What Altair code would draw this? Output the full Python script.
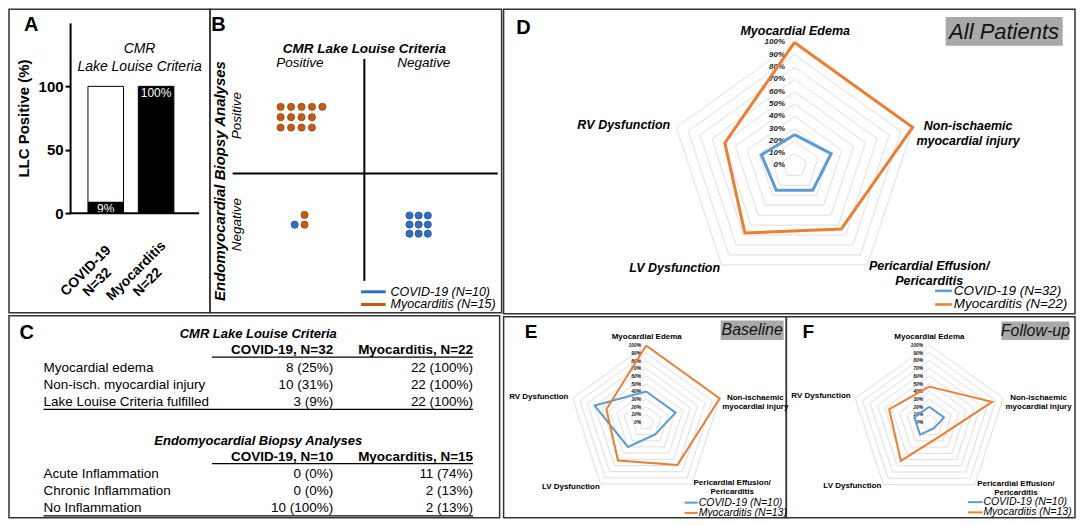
import altair as alt
import pandas as pd

FONT = "Liberation Sans"
BLUE_DOT = "#2f6fbe"
ORANGE_DOT = "#c55a11"
BLUE_DOT_EDGE = "#1f4f8f"
ORANGE_DOT_EDGE = "#8f3e0a"
BLUE_LINE = "#5b9bd5"
ORANGE_LINE = "#ed7d31"
GRID = "#dedede"
BOX = "#a9a9a9"
BORDER = "#333333"

# ---------------- data ----------------
llc_groups = ["COVID-19|N=32", "Myocarditis|N=22"]
llc_positive = [9, 100]
llc_total = [100, 100]

emb_quadrants = ["LLC+ / EMB+", "LLC+ / EMB-", "LLC- / EMB-"]
emb_myo = [13, 2, 0]
emb_covid = [0, 1, 9]

t1_title = "CMR Lake Louise Criteria"
t1_head = ["COVID-19, N=32", "Myocarditis, N=22"]
t1_rows = ["Myocardial edema", "Non-isch. myocardial injury", "Lake Louise Criteria fulfilled"]
t1_covid = ["8 (25%)", "10 (31%)", "3 (9%)"]
t1_myo = ["22 (100%)", "22 (100%)", "22 (100%)"]
t2_title = "Endomyocardial Biopsy Analyses"
t2_head = ["COVID-19, N=10", "Myocarditis, N=15"]
t2_rows = ["Acute Inflammation", "Chronic Inflammation", "No Inflammation"]
t2_covid = ["0 (0%)", "0 (0%)", "10 (100%)"]
t2_myo = ["11 (74%)", "2 (13%)", "2 (13%)"]

radar_axes = ["Myocardial Edema", "Non-ischaemic|myocardial injury",
              "Pericardial Effusion/|Pericarditis", "LV Dysfunction", "RV Dysfunction"]
radar_levels = [0, 10, 20, 30, 40, 50, 60, 70, 80, 90, 100]
all_covid = [25, 31, 25, 25, 28]
all_myo = [100, 100, 64, 68, 59]
base_covid = [40, 40, 20, 40, 70]
base_myo = [100, 100, 69, 62, 54]
fu_covid = [20, 20, 10, 20, 20]
fu_myo = [46, 85, 23, 62, 54]

# ---------------- layout: one figure coordinate system ----------------
W, H = 1068, 510
RX0, RX1, RY0, RY1 = 1, 1083, 1, 522


def GX(rx):
    return (rx - RX0) * (W - 1) / (RX1 - RX0)


def GY(ry):
    return (ry - RY0) * (H - 1) / (RY1 - RY0)


XS = alt.Scale(domain=[RX0, RX1], range=[0, W - 1], nice=False, zero=False)
YS = alt.Scale(domain=[RY0, RY1], range=[0, H - 1], nice=False, zero=False)


def xy(xf="x", yf="y"):
    return dict(x=alt.X(f"{xf}:Q", scale=XS, axis=None),
                y=alt.Y(f"{yf}:Q", scale=YS, axis=None))


def text_layer(rows, size, weight="normal", style="normal", align="center",
               baseline="middle", color="black", angle=None, line_height=None):
    df = pd.DataFrame(rows, columns=["x", "y", "t"])
    props = dict(font=FONT, fontSize=size, fontWeight=weight, fontStyle=style,
                 align=align, baseline=baseline, color=color, lineBreak="|")
    if angle is not None:
        props["angle"] = angle
    if line_height is not None:
        props["lineHeight"] = line_height
    return alt.Chart(df).mark_text(**props).encode(**xy(), text="t:N")


def rule_layer(rows, color="black", width=1.5):
    df = pd.DataFrame(rows, columns=["x", "y", "x2", "y2"])
    return alt.Chart(df).mark_rule(color=color, strokeWidth=width).encode(
        **xy(), x2="x2:Q", y2="y2:Q")


def rect_layer(rows, fill=None, stroke=None, width=1.5):
    df = pd.DataFrame(rows, columns=["x", "y", "x2", "y2"])
    props = dict(strokeWidth=width)
    if fill:
        props["fill"] = fill
    else:
        props["fillOpacity"] = 0
    if stroke:
        props["stroke"] = stroke
    return alt.Chart(df).mark_rect(**props).encode(**xy(), x2="x2:Q", y2="y2:Q")


def radar_layers(geo, covid, myo):
    cx, cy, R = geo["cx"], geo["cy"], geo["R"]
    fx = f"{cx} + datum.v / 100 * {R} * sin(datum.ang * PI / 180)"
    fy = f"{cy} - datum.v / 100 * {R} * cos(datum.ang * PI / 180)"
    enc = xy("px", "py")
    grid_df = pd.DataFrame([{"v": L, "ord": i, "ang": (i % 5) * 72}
                            for L in radar_levels if L > 0 for i in range(6)])
    grid = alt.Chart(grid_df).transform_calculate(px=fx, py=fy).mark_line(
        color=GRID, strokeWidth=1).encode(**enc, detail="v:N", order="ord:Q")

    def series(vals, color):
        df = pd.DataFrame([{"v": vals[i % 5], "ord": i, "ang": (i % 5) * 72} for i in range(6)])
        return alt.Chart(df).transform_calculate(px=fx, py=fy).mark_line(
            color=color, strokeWidth=geo["lw"], strokeJoin="miter").encode(**enc, order="ord:Q")

    pct_df = pd.DataFrame({"v": radar_levels, "ang": [0] * len(radar_levels),
                           "t": [f"{L}%" for L in radar_levels]})
    pct = alt.Chart(pct_df).transform_calculate(px=fx, py=fy).mark_text(
        font=FONT, fontSize=geo["pct_size"], fontWeight="bold", fontStyle="italic",
        align="right", baseline="middle", color="#222222", dx=geo["pct_dx"]).encode(**enc, text="t:N")

    cat_rows = [(geo["lab"][i][0], geo["lab"][i][1], radar_axes[i]) for i in range(5)]
    cats = text_layer(cat_rows, geo["cat_size"], weight="bold", style=geo["cat_style"],
                      line_height=geo["cat_lh"])
    return [grid, pct, series(covid, BLUE_LINE), series(myo, ORANGE_LINE), cats]


layers = []

# panel borders
layers.append(rect_layer([(1, 1, 205, 312), (205, 1, 501, 312), (1, 315, 499, 522),
                          (503, 1, 1083, 313), (503, 316, 790, 522), (790, 316, 1083, 522)],
                         stroke=BORDER, width=1.5))

# ---------------- panel A ----------------
dfA = pd.DataFrame({"group": llc_groups, "positive": llc_positive, "total": llc_total,
                    "label": [f"{v}%" for v in llc_positive]})
xA = alt.X("group:N", sort=None, axis=None,
           scale=alt.Scale(range=[GX(63), GX(186.5)], paddingInner=0.294, paddingOuter=0.355))
yscaleA = alt.Scale(domain=[0, 150], range=[GY(210), GY(15)], nice=False)
yaxisA = alt.Axis(orient="left", offset=-GX(63), values=[0, 50, 100], title="LLC Positive (%)",
                  titleFont=FONT, titleFontSize=15, titleFontWeight="bold", titleColor="black",
                  titlePadding=7, labelFont=FONT, labelFontSize=15, labelFontWeight="bold",
                  labelColor="black", labelPadding=2, tickColor="black", tickWidth=2, tickSize=5,
                  domainColor="black", domainWidth=2, grid=False)
barsA = alt.Chart(dfA).encode(x=xA)
whiteA = barsA.mark_bar(fill="white", stroke="black", strokeWidth=1).encode(
    y=alt.Y("total:Q", scale=yscaleA, axis=yaxisA))
blackA = barsA.mark_bar(fill="black").encode(y=alt.Y("positive:Q"))
valA = barsA.mark_text(font=FONT, fontSize=12, color="white", baseline="top", dy=2).encode(
    y=alt.Y("positive:Q"), text="label:N")
xlabA = barsA.mark_text(font=FONT, fontSize=14, fontWeight="bold", angle=315, align="center",
                        baseline="middle", lineBreak="|", dx=-28, color="black").encode(
    y=alt.value(GY(249)), text="group:N")
layers.append(alt.layer(whiteA, blackA, valA, xlabA))
layers += [
    rule_layer([(63, 210, 194, 210)], width=2),
    text_layer([(23.5, 17, "A")], 20, weight="bold"),
    text_layer([(133.5, 42, "CMR"), (133.5, 60, "Lake Louise Criteria")], 14, style="italic"),
]

# ---------------- panel B ----------------
quad_layout = {  # first dot position, step, rows per column, column direction, row direction
    "LLC+ / EMB+": (276.7, 101.0, 10.6, 3, 1, 1),
    "LLC+ / EMB-": (301.0, 221.7, 10.0, 2, -1, -1),
    "LLC- / EMB-": (407.5, 212.3, 9.3, 3, 1, 1),
}
dot_rows = []
for qi, q in enumerate(emb_quadrants):
    x0, y0, step, nrow, cdir, rdir = quad_layout[q]
    members = ["Myocarditis"] * emb_myo[qi] + ["COVID-19"] * emb_covid[qi]
    for k, g in enumerate(members):
        col, row = k // nrow, k % nrow
        dot_rows.append({"x": x0 + cdir * col * step, "y": y0 + rdir * row * step, "group": g})
dfB = pd.DataFrame(dot_rows)
dotsB = alt.Chart(dfB).mark_circle(size=52, opacity=1, strokeWidth=0.7).encode(
    **xy(),
    fill=alt.Fill("group:N", scale=alt.Scale(domain=["COVID-19", "Myocarditis"],
                                             range=[BLUE_DOT, ORANGE_DOT]), legend=None),
    stroke=alt.Stroke("group:N", scale=alt.Scale(domain=["COVID-19", "Myocarditis"],
                                                 range=[BLUE_DOT_EDGE, ORANGE_DOT_EDGE]), legend=None))
layers += [
    rule_layer([(361.7, 52, 361.7, 279.3), (228, 169.3, 497, 169.3)], width=2),
    dotsB,
    text_layer([(213.5, 17, "B")], 20, weight="bold"),
    text_layer([(361.7, 41.7, "CMR Lake Louise Criteria")], 13.5, weight="bold", style="italic"),
    text_layer([(296.3, 56, "Positive"), (422, 56, "Negative")], 13.5, style="italic"),
    text_layer([(232.3, 110, "Positive"), (232.3, 221.7, "Negative")], 13.5, style="italic", angle=270),
    text_layer([(215, 177, "Endomyocardial Biopsy Analyses")], 15, weight="bold", style="italic", angle=270),
    rule_layer([(358.3, 290.5, 383.3, 290.5)], color=BLUE_DOT, width=3),
    rule_layer([(358.3, 303.5, 383.3, 303.5)], color=ORANGE_DOT, width=3),
    text_layer([(388.3, 290.5, "COVID-19 (N=10)"), (388.3, 303.5, "Myocarditis (N=15)")], 12.5,
               style="italic", align="left"),
]

# ---------------- panel C ----------------
layers.append(text_layer([(19, 333, "C")], 20, weight="bold"))
for top, title, head, rows, cv, mv in ((334, t1_title, t1_head, t1_rows, t1_covid, t1_myo),
                                        (443, t2_title, t2_head, t2_rows, t2_covid, t2_myo)):
    layers.append(text_layer([(254, top, title)], 13, weight="bold", style="italic"))
    layers.append(text_layer([(330, top + 16.5, head[0]), (472, top + 16.5, head[1])], 13.5,
                             weight="bold", align="right"))
    layers.append(rule_layer([(207, top + 23.5, 472, top + 23.5),
                              (36, top + 77, 472, top + 77)], width=1.3))
    ys = [top + 34.5 + 17.5 * i for i in range(len(rows))]
    layers.append(text_layer(list(zip([36] * 3, ys, rows)), 13.5, align="left"))
    layers.append(text_layer(list(zip([330] * 3, ys, cv)) + list(zip([472] * 3, ys, mv)),
                             13.5, align="right"))

# ---------------- panel D ----------------
geoD = dict(cx=798.3, cy=161, R=126, lw=3, pct_size=8, pct_dx=-9.5, cat_size=12.5, cat_style="italic",
            cat_lh=15, lab=[(799, 23), (974.5, 120.5), (935, 264.5), (676.7, 266), (625, 120)])
layers += radar_layers(geoD, all_covid, all_myo)
layers += [
    text_layer([(523.3, 20, "D")], 20, weight="bold"),
    rect_layer([(951.7, 9, 1070.5, 38.3)], fill=BOX, width=0),
    text_layer([(1011, 24.5, "All Patients")], 22, style="italic", color="#111111"),
    rule_layer([(941, 289.5, 958, 289.5)], color=BLUE_LINE, width=2.5),
    rule_layer([(941, 303.5, 958, 303.5)], color=ORANGE_LINE, width=2.5),
    text_layer([(960, 289.5, "COVID-19 (N=32)"), (960, 303.5, "Myocarditis (N=22)")], 13.5,
               style="italic", align="left"),
]

# ---------------- panel E ----------------
geoE = dict(cx=647.7, cy=424, R=78.5, lw=2, pct_size=5, pct_dx=-5, cat_size=8, cat_style="normal",
            cat_lh=9, lab=[(648.3, 337.3), (758.5, 399.7), (735, 486.5), (571.3, 490.7), (538.8, 398.3)])
layers += radar_layers(geoE, base_covid, base_myo)
layers += [
    text_layer([(531, 331.5, "E")], 19, weight="bold"),
    rect_layer([(723.3, 320, 787.3, 340)], fill=BOX, width=0),
    text_layer([(755.3, 330, "Baseline")], 16, style="italic", color="#111111"),
    rule_layer([(686.7, 506.5, 700, 506.5)], color=BLUE_LINE, width=2),
    rule_layer([(686.7, 517, 700, 517)], color=ORANGE_LINE, width=2),
    text_layer([(701, 506.5, "COVID-19 (N=10)"), (701, 517, "Myocarditis (N=13)")], 10.5,
               style="italic", align="left"),
]

# ---------------- panel F ----------------
geoF = dict(cx=935, cy=424, R=79, lw=2, pct_size=5, pct_dx=-6, cat_size=8, cat_style="normal",
            cat_lh=9, lab=[(935.2, 337.3), (1046, 399.3), (1023, 487), (857, 489), (825.2, 397.7)])
layers += radar_layers(geoF, fu_covid, fu_myo)
layers += [
    text_layer([(812.3, 331.7, "F")], 19, weight="bold"),
    rect_layer([(1008.3, 321, 1077.3, 340)], fill=BOX, width=0),
    text_layer([(1042.8, 330.5, "Follow-up")], 16, style="italic", color="#111111"),
    rule_layer([(974.3, 506, 989.3, 506)], color=BLUE_LINE, width=2),
    rule_layer([(974.3, 516.5, 989.3, 516.5)], color=ORANGE_LINE, width=2),
    text_layer([(990, 506, "COVID-19 (N=10)"), (990, 516.5, "Myocarditis (N=13)")], 10.5,
               style="italic", align="left"),
]

chart = alt.layer(*layers).resolve_scale(x="independent", y="independent").properties(
    width=W, height=H, padding=0, background="white").configure_view(strokeWidth=0)

chart.save("out.html", embed_options={"renderer": "svg", "actions": False})
